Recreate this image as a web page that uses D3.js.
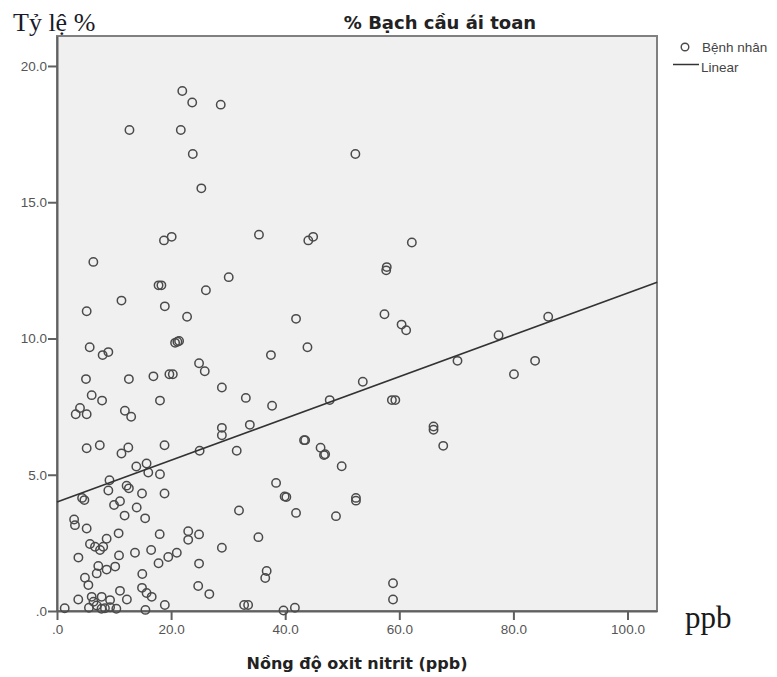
<!DOCTYPE html>
<meta charset="utf-8">
<script src="https://d3js.org/d3.v7.min.js"></script>
<style>
  body { margin: 0; background: #fff; }
</style>
<body>
<div id="my_dataviz"></div>
<script>

// values
var nitrite = [21.96, 23.7, 28.7, 12.7, 21.7, 23.8, 52.3, 25.3, 18.75, 20.1, 35.4, 44.05, 44.9, 62.2, 6.37, 57.7, 57.8, 30.1, 17.8, 18.3,
  26.1, 11.3, 18.9, 5.2, 22.8, 41.9, 57.4, 60.4, 61.2, 86.1, 77.4,
  5.73, 8.0, 9.0, 20.7, 21.4, 21.1, 37.5, 43.9, 70.2, 83.8, 80.1, 5.08, 12.6, 16.9, 19.7, 20.3, 24.9, 25.9, 28.9, 53.6,
  6.08, 7.9, 18.05, 33.1, 37.7, 47.8, 58.7, 59.3, 3.28, 4.03, 5.2, 11.9, 13.0, 28.9, 28.9, 33.8, 66.0, 66.0, 67.7,
  43.3, 43.5, 46.2, 46.8, 47.0, 49.9, 5.2, 7.5, 11.3, 12.5, 18.85, 25.0, 31.5, 13.9, 15.7, 16.0, 18.05,
  9.2, 9.0, 12.2, 12.6, 14.9, 18.85, 4.4, 4.8, 10.0, 11.04, 13.97, 11.85, 15.45, 38.4, 39.9, 40.2, 52.4, 52.4, 41.9, 48.9, 31.9,
  3.0, 3.15, 5.2, 10.8, 8.7, 5.78, 6.66, 7.54, 8.1, 18.0, 23.0, 23.0, 24.9, 35.3,
  3.75, 10.87, 13.67, 16.5, 21.0, 19.5, 17.8, 28.9, 24.9, 4.9, 6.96, 7.24, 8.7, 10.2, 5.5, 14.95, 14.9, 15.7, 16.6, 24.75, 26.7, 36.75, 36.5,
  3.73, 6.08, 6.4, 7.83, 9.3, 11.04, 12.25, 1.35, 5.6, 6.96, 7.8, 8.4, 9.3, 10.4, 15.5, 18.9, 32.8, 33.5, 39.7, 41.7, 58.9, 58.9];

var eosin = [19.08, 18.66, 18.58, 17.65, 17.65, 16.77, 16.77, 15.51, 13.6, 13.73, 13.81, 13.6, 13.73, 13.52, 12.81, 12.5, 12.62, 12.25, 11.95, 11.95,
  11.77, 11.39, 11.18, 11.0, 10.8, 10.72, 10.89, 10.51, 10.3, 10.8, 10.12,
  9.68, 9.39, 9.5, 9.84, 9.91, 9.88, 9.39, 9.68, 9.18, 9.18, 8.69, 8.51, 8.51, 8.61, 8.69, 8.69, 9.09, 8.8, 8.2, 8.41,
  7.92, 7.72, 7.72, 7.82, 7.53, 7.74, 7.74, 7.74, 7.22, 7.45, 7.22, 7.35, 7.13, 6.72, 6.45, 6.83, 6.65, 6.77, 6.06,
  6.27, 6.27, 5.99, 5.72, 5.75, 5.31, 5.97, 6.08, 5.78, 6.0, 6.08, 5.88, 5.88, 5.3, 5.41, 5.08, 5.02,
  4.8, 4.42, 4.6, 4.5, 4.31, 4.31, 4.15, 4.07, 3.89, 4.03, 3.8, 3.5, 3.4, 4.7, 4.2, 4.18, 4.05, 4.15, 3.6, 3.48, 3.69,
  3.36, 3.15, 3.03, 2.85, 2.65, 2.46, 2.36, 2.24, 2.36, 2.82, 2.93, 2.61, 2.81, 2.71,
  1.96, 2.04, 2.14, 2.24, 2.14, 1.98, 1.75, 2.32, 1.74, 1.22, 1.38, 1.65, 1.52, 1.63, 0.95, 1.36, 0.85, 0.66, 0.52, 0.92, 0.62, 1.47, 1.21,
  0.42, 0.52, 0.34, 0.52, 0.4, 0.74, 0.42, 0.1, 0.12, 0.2, 0.08, 0.1, 0.14, 0.08, 0.04, 0.22, 0.22, 0.22, 0.02, 0.12, 1.02, 0.42];

// fit line end points
var fitX = [0, 105.2];
var fitY = [4.0, 12.06];

var xTicks = [0, 20, 40, 60, 80, 100];
var yTicks = [0, 5, 10, 15, 20];
var legendLabels = ["Bệnh nhân", "Linear"];

// plot box
var box = {left: 57, top: 36, right: 657, bottom: 611};

var svg = d3.select("#my_dataviz")
  .append("svg")
    .attr("width", 777)
    .attr("height", 677)
    .style("font-family", "Arial, 'Liberation Sans', sans-serif");

var x = d3.scaleLinear().domain([0, 105.17]).range([box.left, box.right]);
var y = d3.scaleLinear().domain([0, 21.1]).range([box.bottom, box.top]);

// SPSS style labels: ".0", "5.0" ...
function spss(d) { return d.toFixed(1).replace(/^0\./, "."); }

// background + frame
svg.append("rect")
    .attr("x", box.left)
    .attr("y", box.top)
    .attr("width", box.right - box.left)
    .attr("height", box.bottom - box.top)
    .attr("fill", "#f0f0f0")
    .attr("stroke", "#808080")
    .attr("stroke-width", 2);

// axes
var xAxis = svg.append("g")
    .attr("transform", "translate(0," + box.bottom + ")")
    .call(d3.axisBottom(x).tickValues(xTicks).tickFormat(spss).tickSize(9).tickPadding(4).tickSizeOuter(0));
var yAxis = svg.append("g")
    .attr("transform", "translate(" + box.left + ",0)")
    .call(d3.axisLeft(y).tickValues(yTicks).tickFormat(spss).tickSize(9).tickPadding(1).tickSizeOuter(0));

[xAxis, yAxis].forEach(function(a) {
  a.select(".domain").attr("stroke", "#606060").attr("stroke-width", 2);
  a.selectAll(".tick line").attr("stroke", "#606060").attr("stroke-width", 2);
  a.selectAll(".tick text")
    .attr("fill", "#555")
    .style("font-size", "13.5px")
    .style("font-family", "Arial, 'Liberation Sans', sans-serif");
});

// points
svg.append("g")
  .selectAll("circle")
  .data(nitrite)
  .enter()
  .append("circle")
    .attr("cx", function(d) { return x(d); })
    .attr("cy", function(d, i) { return y(eosin[i]); })
    .attr("r", 4.2)
    .attr("fill", "none")
    .attr("stroke", "#4a4a4a")
    .attr("stroke-width", 1.5);

// linear fit
svg.append("path")
    .datum(fitX.map(function(d, i) { return [d, fitY[i]]; }))
    .attr("d", d3.line()
      .x(function(d) { return x(d[0]); })
      .y(function(d) { return y(d[1]); }))
    .attr("fill", "none")
    .attr("stroke", "#333")
    .attr("stroke-width", 1.6);

// titles
svg.append("text")
    .attr("x", 440)
    .attr("y", 29)
    .attr("text-anchor", "middle")
    .style("font-family", "'DejaVu Sans', sans-serif")
    .style("font-size", "18px")
    .style("font-weight", "bold")
    .attr("fill", "#222")
    .text("% Bạch cầu ái toan");

svg.append("text")
    .attr("x", 13)
    .attr("y", 31)
    .style("font-family", "'Liberation Serif', 'Times New Roman', serif")
    .style("font-size", "26px")
    .attr("fill", "#1a1a2a")
    .text("Tỷ lệ %");

svg.append("text")
    .attr("x", 357)
    .attr("y", 669)
    .attr("text-anchor", "middle")
    .style("font-family", "'DejaVu Sans', sans-serif")
    .style("font-size", "16px")
    .style("font-weight", "bold")
    .attr("fill", "#222")
    .text("Nồng độ oxit nitrit (ppb)");

svg.append("text")
    .attr("x", 685)
    .attr("y", 628)
    .style("font-family", "'Liberation Serif', 'Times New Roman', serif")
    .style("font-size", "31px")
    .attr("fill", "#1a1a1a")
    .text("ppb");

// legend
var legend = svg.append("g");
legend.append("circle")
    .attr("cx", 685)
    .attr("cy", 47)
    .attr("r", 3.8)
    .attr("fill", "none")
    .attr("stroke", "#4a4a4a")
    .attr("stroke-width", 1.4);
legend.append("line")
    .attr("x1", 673).attr("x2", 699)
    .attr("y1", 64.5).attr("y2", 64.5)
    .attr("stroke", "#333")
    .attr("stroke-width", 1.5);
legend.selectAll("text")
  .data(legendLabels)
  .enter()
  .append("text")
    .attr("x", function(d, i) { return i == 0 ? 702 : 701; })
    .attr("y", function(d, i) { return i == 0 ? 52 : 71.5; })
    .style("font-size", "13.5px")
    .attr("fill", "#444")
    .text(function(d) { return d; });

</script>
</body>
